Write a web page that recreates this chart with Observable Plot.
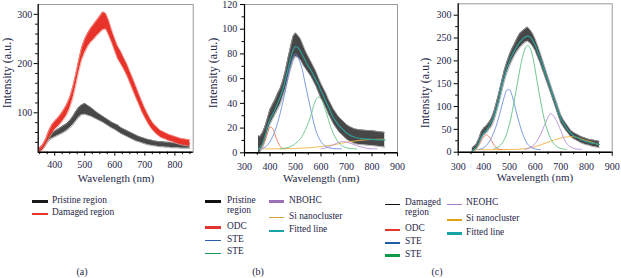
<!DOCTYPE html>
<html><head><meta charset="utf-8">
<script src="https://cdn.jsdelivr.net/npm/d3@7"></script>
<script src="https://cdn.jsdelivr.net/npm/@observablehq/plot@0.6"></script>
<style>
body{margin:0;background:#fff;}
#root{position:relative;width:621px;height:278px;overflow:hidden;font-family:"Liberation Serif",serif;color:#1f1f48;}
#root svg{position:absolute;top:0;}
.t{position:absolute;white-space:nowrap;line-height:1;}
.ln{position:absolute;}
</style></head><body><div id="root"></div>
<script>
// ---------- DATA ----------
const waveA = [350,360,370,380,390,400,410,420,430,440,450,460,470,480,490,500,510,520,530,540,550,560,570,580,590,600,610,620,630,640,650,660,670,680,690,700,710,720,730,740,750,760,770,780,790,800,810,820,830,840,850];
const waveBC = [355,360,370,380,390,400,410,420,430,440,450,460,470,480,490,500,510,520,530,540,550,560,570,580,590,600,610,620,630,640,650,660,670,680,690,700,710,720,730,740,750,760,770,780,790,800,810,820,830,840,850];

// (a) pristine region (noise band low / high)
const pristineAHi = [29,34,45,55,60,63,66,70,74,78,84,92,102,111,116,119,115,111,106,101,97,93,89,85,81,78,75,70,67,64,61,58,55,52,50,48,46,45,43,42,41,41,40,40,39,39,39,38,38,38,38];
const pristineALo = [21,25,34,43,48,51,54,57,60,64,69,75,83,91,96,97,95,93,90,87,84,81,77,73,69,66,62,58,55,52,49,46,43,41,39,37,35,34,33,32,31,31,30,30,29,29,29,28,28,28,28];
// (a) damaged region
const damagedAHi = [28,35,47,63,75,83,89,97,106,117,131,152,178,207,233,250,262,272,280,288,296,305,302,288,268,251,235,225,212,200,185,170,155,139,124,110,97,86,77,71,65,62,59,56,54,52,50,48,47,46,45];
const damagedALo = [20,25,34,47,57,65,71,78,86,95,109,128,154,183,207,222,234,243,249,256,262,268,270,257,242,225,209,199,188,176,161,146,131,117,102,90,79,69,62,56,51,48,46,43,41,39,37,35,34,33,32];

// (b) pristine region
const pristineBHi = [14,13,16,21,28,35,39,43,48,52,58,66,76,85,94,97,95,92,87,82,78,74,70,66,61,56,52,48,43,39,35,32,29,27,25,23,21.5,20.5,19.5,19,18.7,18.5,18.3,18.1,18,17.9,17.6,17.3,17,16.8,16.5];
const pristineBLo = [0,0,4,9,16,23,27,31,35,39,45,51,59,67,74,78,77,75,71,68,65,62,58,54,49,44,40,36,31,27,23,20,17,15,13,11,9.5,8.5,7.5,7,6.7,6.5,6.3,6.1,6,5.9,5.6,5.3,5,4.8,4.5];
const fittedB = [3,4,7,13,21,27,31,35,40,45,51,59,67,76,83,86,85,82,78,74,70,67,63,59,55,50,46,41,37,32,28,25,22,20,18,16,14.8,13.5,12.8,12.2,11.8,11.5,11.3,11.1,11,10.8,10.6,10.5,10.4,10.3,10.2];
const odcBWave = [360,370,380,390,400,410,420,430,440,450,460];
const odcBVal  = [3.5,5.5,10,16,20.6,19.8,14.5,9,5.2,3.6,3.2];
const steBlueBWave = [360,380,400,420,440,460,480,500,520,540,560,580,600,620,640,660,680];
const steBlueBVal  = [3.2,4.5,9,18,32,50,70,80,72,54,35,18,9,5,3.6,3.3,3.2];
const steGreenBWave = [440,460,480,500,520,540,560,580,590,600,620,640,660,680,700,720,740];
const steGreenBVal  = [3.2,3.8,5,7.5,11.5,19,30,43,45,44,33,20,11,6,4,3.4,3.2];
const nbohcBWave = [600,620,640,660,680,700,720,740,760,780,800,820];
const nbohcBVal  = [3.2,4,5.6,7.6,9,8.7,7.4,5.8,4.5,3.7,3.3,3.2];
const siBWave = [355,400,450,500,550,600,650,700,750,800,850];
const siBVal  = [3.2,3.2,3.3,3.5,4,5,6.5,8.5,10,10.8,11];

// (c) damaged region
const damagedCHi = [9,12,17,29,45,53,58,65,75,90,111,133,157,180,198,214,227,238,250,260,265,270,274,268,260,248,233,217,200,182,165,148,131,115,98,82,71,63,55,47,43,40,37,34,32,30,28,27,26,25,24];
const damagedCLo = [1,2,5,15,29,37,42,49,57,70,89,109,133,156,174,189,201,212,221,229,235,240,243,239,232,222,208,194,178,162,146,130,113,97,80,64,55,47,40,33,29,26,23,20,18,16,15,13,12,11,10];
const fittedC = [3,5,10,20,33,42,48,57,67,80,98,120,145,166,185,200,213,223,233,241,247,252,254,252,245,234,220,205,189,172,156,139,122,106,89,74,63,55,47,41,36,33,30,27,25,23,21.5,20,19,18,17];
const odcCWave = [360,370,380,390,400,410,420,430,440,450,460,470];
const odcCVal  = [5.5,8,15,25,34,38,34,25,15,9,6.5,5.5];
const steBlueCWave = [380,400,420,440,460,470,480,490,500,510,520,530,540,550,560,570,580,600,620];
const steBlueCVal  = [6,10,22,45,80,102,122,136,137,124,102,80,60,42,28,18,12,7,5.5];
const steGreenCWave = [440,460,480,500,520,540,550,560,570,580,590,600,620,640,660,680,700,720];
const steGreenCVal  = [8,13,28,62,118,180,207,226,234,228,210,180,115,62,30,14,8,6];
const neohcCWave = [560,580,600,620,640,650,660,670,680,700,720,740,760,780];
const neohcCVal  = [6,10,19,38,64,77,84,81,72,47,21,11,7,6];
const siCWave = [360,400,450,500,550,600,650,700,730,760,790,820,850];
const siCVal  = [5.5,5.5,5.5,6,7,12,22,31,34,33,27,22,16];

// ticks
const xMajorA = [400,500,600,700,800];
const xMinorA = [350,375,425,450,475,525,550,575,625,650,675,725,750,775,825,850];
const yMajorA = [100,200,300];
const yMinorA = [40,60,80,120,140,160,180,220,240,260,280];
const xMajorBC = [300,400,500,600,700,800,900];
const xMinorBC = [350,450,550,650,750,850];
const yMajorB = [0,20,40,60,80,100,120];
const yMinorB = [10,30,50,70,90,110];
const yMajorC = [0,50,100,150,200,250,300];
const yMinorC = [25,75,125,175,225,275];

// legends
const legendA = [["Pristine region"],["Damaged region"]];
const legendB1 = [["Pristine","region"],["ODC"],["STE"],["STE"]];
const legendB2 = [["NBOHC"],["Si nanocluster"],["Fitted line"]];
const legendC1 = [["Damaged","region"],["ODC"],["STE"],["STE"]];
const legendC2 = [["NEOHC"],["Si nanocluster"],["Fitted line"]];
const xTitle = "Wavelength (nm)";
const yTitle = "Intensity (a.u.)";
const panelTags = ["(a)","(b)","(c)"];

// ---------- DRAWING ----------
const root = document.getElementById("root");
const TXT = "#1f1f48";

function band(wave, lo, hi, fill, edge) {
  const idx = wave.map((_, i) => i);
  return [
    Plot.areaY(idx, {x: i => wave[i], y1: i => lo[i], y2: i => hi[i], fill, curve: "linear"}),
    Plot.lineY(idx, {x: i => wave[i], y: i => hi[i], stroke: edge, strokeWidth: 0.8}),
    Plot.lineY(idx, {x: i => wave[i], y: i => lo[i], stroke: edge, strokeWidth: 0.8})
  ];
}
function comp(wave, val, stroke, sw = 0.9) {
  const idx = wave.map((_, i) => i);
  return Plot.lineY(idx, {x: i => wave[i], y: i => val[i], stroke, strokeWidth: sw, curve: "catmull-rom"});
}

function panel(o) {
  const svg = Plot.plot({
    width: o.width, height: 190,
    marginLeft: o.ml, marginRight: o.mr, marginTop: o.mt, marginBottom: o.mb,
    x: {domain: o.xd}, y: {domain: o.yd},
    style: {fontFamily: "'Liberation Serif', serif", fontSize: "10px", color: TXT, background: "transparent", overflow: "visible"},
    marks: [
      ...o.marks,
      Plot.frame({stroke: "#9a9a9a", strokeWidth: 1}),
      Plot.ruleX([o.xd[0]], {stroke: "#000", strokeWidth: 1.2}),
      Plot.ruleY([o.yd[0]], {stroke: "#000", strokeWidth: 1.4}),
      Plot.axisX({ticks: o.xMajor, tickSize: 4, tickPadding: o.xPad, label: null, stroke: "#000"}),
      Plot.axisX({ticks: o.xMinor, tickSize: 2.5, tickFormat: () => "", label: null, stroke: "#000"}),
      Plot.axisY({ticks: o.yMajor, tickSize: 4, tickPadding: o.yPad, label: null, stroke: "#000"}),
      Plot.axisY({ticks: o.yMinor, tickSize: 2.5, tickFormat: () => "", label: null, stroke: "#000"})
    ]
  });
  svg.style.left = o.left + "px";
  root.appendChild(svg);
}

function text(str, x, y, size, opts = {}) {
  const d = document.createElement("div");
  d.className = "t";
  d.textContent = str;
  d.style.left = x + "px";
  d.style.top = y + "px";
  d.style.fontSize = size + "px";
  d.style.transform = opts.rotate ? "translate(-50%,-50%) rotate(-90deg)" : (opts.left ? "translate(0,-50%)" : "translate(-50%,-50%)");
  root.appendChild(d);
}
function lineSwatch(x1, x2, y, color, w) {
  const d = document.createElement("div");
  d.className = "ln";
  d.style.left = x1 + "px";
  d.style.width = (x2 - x1) + "px";
  d.style.top = (y - w / 2) + "px";
  d.style.height = w + "px";
  d.style.background = color;
  root.appendChild(d);
}
function legend(items, colors, widths, ys, x1, x2, tx) {
  items.forEach((lines, k) => {
    lineSwatch(x1, x2, ys[k] + 0.8, colors[k], widths[k]);
    lines.forEach((s, j) => text(s, tx, ys[k] + j * 10, 9.4, {left: true}));
  });
}

// panel (a)
panel({
  left: 0, width: 200, ml: 37.7, mr: 7.3, mt: 4, mb: 38.3,
  xd: [345, 861], yd: [20, 320],
  xMajor: xMajorA, xMinor: xMinorA, yMajor: yMajorA, yMinor: yMinorA, xPad: 4.5, yPad: 2,
  marks: [
    ...band(waveA, pristineALo, pristineAHi, "#474747", "#8a8a8a"),
    ...band(waveA, damagedALo, damagedAHi, "#e8332b", "#f49a90")
  ]
});
// panel (b)
panel({
  left: 200, width: 210, ml: 44, mr: 13, mt: 4, mb: 37.7,
  xd: [300, 900], yd: [0, 120],
  xMajor: xMajorBC, xMinor: xMinorBC, yMajor: yMajorB, yMinor: yMinorB, xPad: 5.7, yPad: 3.3,
  marks: [
    ...band(waveBC, pristineBLo, pristineBHi, "#474747", "#999"),
    comp(siBWave, siBVal, "#f0b54a"),
    comp(nbohcBWave, nbohcBVal, "#b892d8"),
    comp(odcBWave, odcBVal, "#f07a58"),
    comp(steBlueBWave, steBlueBVal, "#6f8fe0"),
    comp(steGreenBWave, steGreenBVal, "#66c486"),
    comp(waveBC, fittedB, "#2f9d98", 1.2)
  ]
});
// panel (c)
panel({
  left: 410, width: 211, ml: 47.7, mr: 9.3, mt: 3.3, mb: 38.3,
  xd: [300, 900], yd: [0, 325],
  xMajor: xMajorBC, xMinor: xMinorBC, yMajor: yMajorC, yMinor: yMinorC, xPad: 6.3, yPad: 2.7,
  marks: [
    ...band(waveBC, damagedCLo, damagedCHi, "#474747", "#999"),
    comp(siCWave, siCVal, "#f0b040"),
    comp(neohcCWave, neohcCVal, "#b58ed8"),
    comp(odcCWave, odcCVal, "#f07a58"),
    comp(steBlueCWave, steBlueCVal, "#6f8fe0"),
    comp(steGreenCWave, steGreenCVal, "#5fc283"),
    comp(waveBC, fittedC, "#2f9d98", 1.2)
  ]
});

// axis titles
text(xTitle, 116, 178, 11);
text(xTitle, 321.3, 178.3, 11);
text(xTitle, 535, 177, 11);
text(yTitle, 6.7, 72.5, 12, {rotate: true});
text(yTitle, 213.3, 72.5, 12, {rotate: true});
text(yTitle, 425, 93, 12, {rotate: true});

// legends
legend(legendA, ["#1a1a1a", "#e8332b"], [2.6, 2.6], [200.7, 213.3], 32, 48, 52);
legend(legendB1, ["#111", "#e3352e", "#2a5fa6", "#1c9a58"], [2.6, 2.6, 1.2, 1.1], [200.7, 226.7, 240, 252.3], 205, 221, 227);
legend(legendB2, ["#9c70b8", "#d6a03a", "#17a3a3"], [2.6, 1.1, 2.6], [200.7, 216.7, 230], 269, 284, 289);
legend(legendC1, ["#111", "#e3352e", "#1f5fa8", "#0f9a4a"], [1.2, 2.6, 2.6, 2.6], [203.3, 229.3, 242, 254.7], 385, 400, 405);
legend(legendC2, ["#a87cc8", "#e0a010", "#17a3a3"], [1.1, 2.6, 2.6], [203.3, 219.3, 232.7], 447, 462, 466);

// panel tags
text(panelTags[0], 82, 271.7, 10);
text(panelTags[1], 258, 271.7, 10);
text(panelTags[2], 437, 271.7, 10);
</script></body></html>
